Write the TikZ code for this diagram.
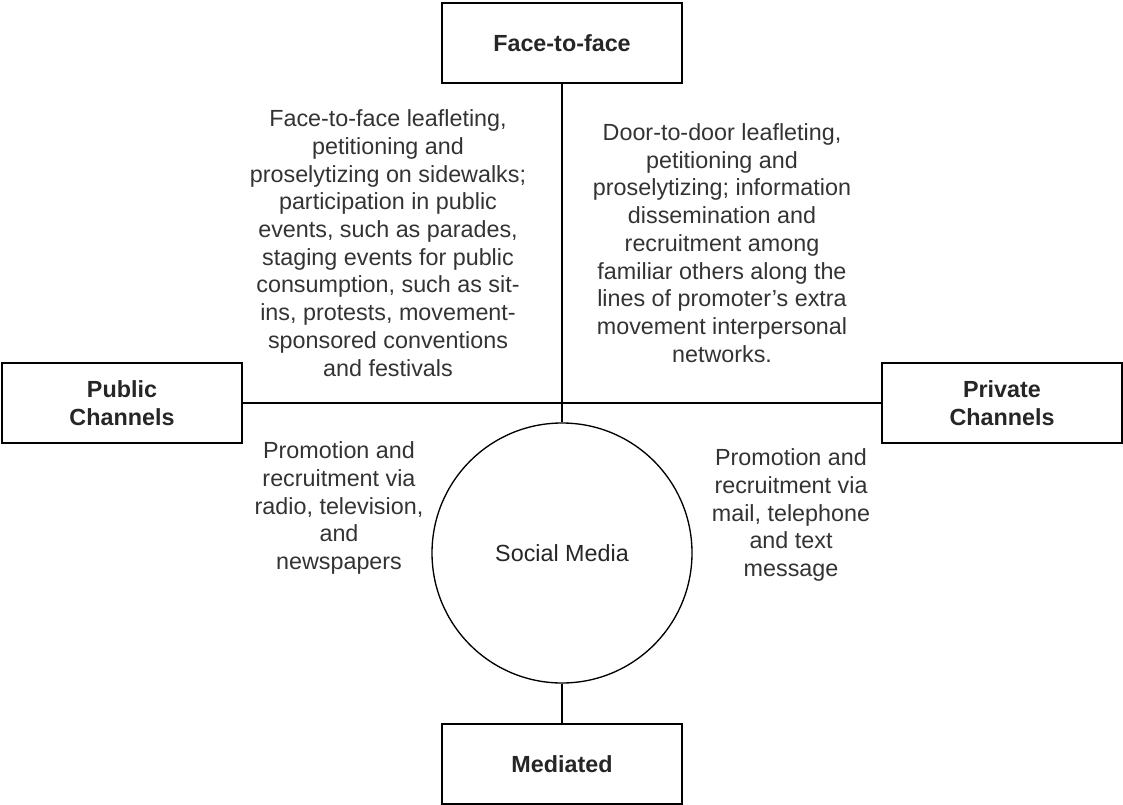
\documentclass[tikz,border=0pt]{standalone}
\usepackage{fontspec}
\setmainfont{Liberation Sans}
\usetikzlibrary{positioning}
\tikzset{
    chanBox/.style={
        rectangle,
        draw=black,
        line width=1.2pt,
        minimum width=180pt,
        minimum height=60pt,
        inner sep=0pt,
        align=center,
        text=black!85,
        font=\fontsize{17.5}{20.5}\selectfont\bfseries
    },
    mediaCircle/.style={
        circle,
        draw=black,
        line width=1pt,
        minimum size=195pt,
        inner sep=0pt,
        text=black!85,
        font=\fontsize{17.5}{20.8}\selectfont
    },
    noteText/.style={
        align=center,
        inner sep=0pt,
        text=black!80,
        font=\fontsize{17.5}{20.8}\selectfont
    },
    axisLine/.style={
        line width=1.2pt
    }
}
\begin{document}
\begin{tikzpicture}[x=0.75pt, y=-0.75pt]

        % Page frame
        \useasboundingbox (0, 0) rectangle (1123, 805);

        % Channel Boxes
        \node[chanBox] (face)     at (562, 43)   {Face-to-face};
        \node[chanBox] (public)   at (122, 403)  {Public\\Channels};
        \node[chanBox] (private)  at (1002, 403) {Private\\Channels};
        \node[chanBox] (mediated) at (562, 764)  {Mediated};

        % Social Media circle
        \node[mediaCircle] (media) at (562, 553) {Social Media};

        % Axis Lines
        \draw[axisLine] (face) -- (media);
        \draw[axisLine] (public) -- (private);
        \draw[axisLine] (media) -- (mediated);

        % Quadrant Texts
        \node[noteText] (faceNote) at (388, 243) {Face-to-face leafleting,\\petitioning and\\proselytizing on sidewalks;\\participation in public\\events, such as parades,\\staging events for public\\consumption, such as sit-\\ins, protests, movement-\\sponsored conventions\\and festivals};
        \node[noteText] (doorNote) at (722, 243) {Door-to-door leafleting,\\petitioning and\\proselytizing; information\\dissemination and\\recruitment among\\familiar others along the\\lines of promoter's extra\\movement interpersonal\\networks.};
        \node[noteText] (pressNote) at (339, 508) {Promotion and\\recruitment via\\radio, television,\\and\\newspapers};
        \node[noteText] (mailNote) at (791, 515) {Promotion and\\recruitment via\\mail, telephone\\and text\\message};

\end{tikzpicture}
\end{document}
